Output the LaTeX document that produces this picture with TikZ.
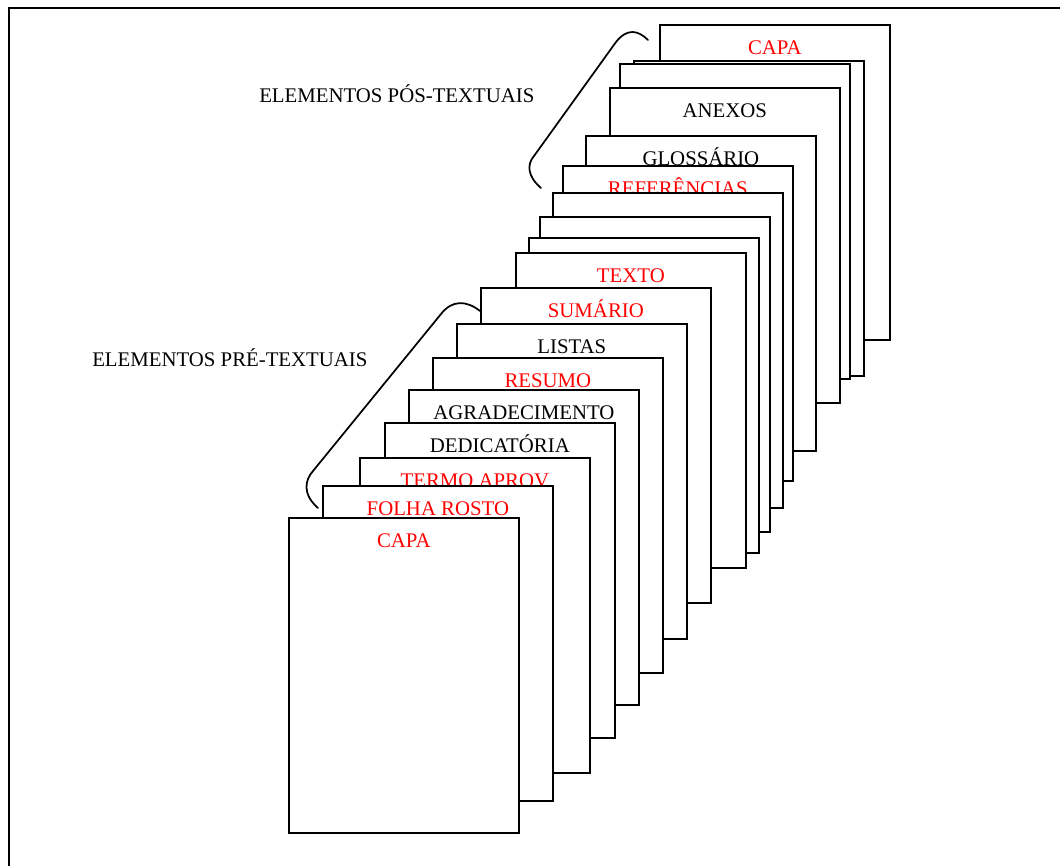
\documentclass[tikz,border=0pt]{standalone}
\usepackage{fontspec}
\setmainfont{Liberation Serif}
\definecolor{vermelho}{RGB}{255,0,0}
\definecolor{preto}{RGB}{0,0,0}

\begin{document}
\begin{tikzpicture}[x=0.75pt,y=-0.75pt,
	pagina/.style={draw=preto,fill=white,line width=1.3pt,anchor=north west,
		minimum width=172.5pt,minimum height=236.25pt,inner sep=0pt},
	titulo/.style={anchor=base,inner sep=0pt,font=\fontsize{15.6pt}{18pt}\selectfont},
	chave/.style={preto,line width=1.3pt,line cap=round}]
	\useasboundingbox (0,0) rectangle (1060,865);
	\draw[preto,line width=1.5pt] (9,900) -- (9,8) -- (1100,8);
	\node[pagina] (p18) at (659,24) {};
	\node[titulo,vermelho] (t18) at ([yshift=-23pt]p18.north) {CAPA};
	\node[pagina] (p17) at (633,60) {};
	\node[pagina] (p16) at (619,63) {};
	\node[pagina] (p15) at (609,87) {};
	\node[titulo,preto] (t15) at ([yshift=-23pt]p15.north) {ANEXOS};
	\node[pagina] (p14) at (585,135) {};
	\node[titulo,preto] (t14) at ([yshift=-23pt]p14.north) {GLOSSÁRIO};
	\node[pagina] (p13) at (562,165) {};
	\node[titulo,vermelho] (t13) at ([yshift=-23pt]p13.north) {REFERÊNCIAS};
	\node[pagina] (p12) at (552,192) {};
	\node[pagina] (p11) at (539,216) {};
	\node[pagina] (p10) at (528,237) {};
	\node[pagina] (p9) at (515,252) {};
	\node[titulo,vermelho] (t9) at ([yshift=-23pt]p9.north) {TEXTO};
	\node[pagina] (p8) at (480,287) {};
	\node[titulo,vermelho] (t8) at ([yshift=-23pt]p8.north) {SUMÁRIO};
	\node[pagina] (p7) at (456,323) {};
	\node[titulo,preto] (t7) at ([yshift=-23pt]p7.north) {LISTAS};
	\node[pagina] (p6) at (432,357) {};
	\node[titulo,vermelho] (t6) at ([yshift=-23pt]p6.north) {RESUMO};
	\node[pagina] (p5) at (408,389) {};
	\node[titulo,preto] (t5) at ([yshift=-23pt]p5.north) {AGRADECIMENTO};
	\node[pagina] (p4) at (384,422) {};
	\node[titulo,preto] (t4) at ([yshift=-23pt]p4.north) {DEDICATÓRIA};
	\node[pagina] (p3) at (359,457) {};
	\node[titulo,vermelho] (t3) at ([yshift=-23pt]p3.north) {TERMO APROV};
	\node[pagina] (p2) at (322,485) {};
	\node[titulo,vermelho] (t2) at ([yshift=-23pt]p2.north) {FOLHA ROSTO};
	\node[pagina] (p1) at (288,517) {};
	\node[titulo,vermelho] (t1) at ([yshift=-23pt]p1.north) {CAPA};
	\node[titulo,preto,anchor=base west] (pos) at (259,102) {ELEMENTOS PÓS-TEXTUAIS};
	\node[titulo,preto,anchor=base west] (pre) at (92,366) {ELEMENTOS PRÉ-TEXTUAIS};
	\draw[chave] (541,188) .. controls (527,176) and (527,164) .. (534,156)
		-- (616,42) .. controls (627,28) and (638,30) .. (648,40);
	\draw[chave] (318,508) .. controls (302,494) and (305,480) .. (313,471)
		-- (441,314) .. controls (452,300) and (466,300) .. (480,311);
\end{tikzpicture}
\end{document}
